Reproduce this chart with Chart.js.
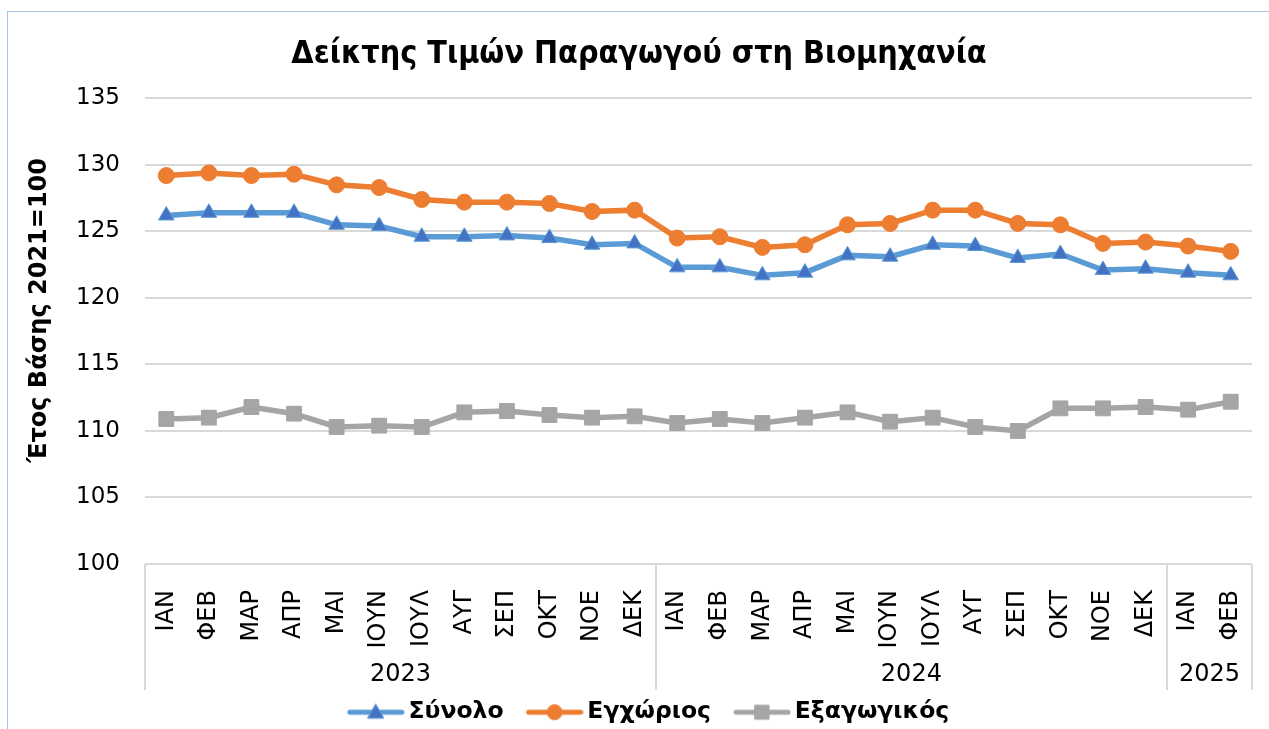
<!DOCTYPE html>
<html>
<head>
<meta charset="utf-8">
<script src="https://cdn.jsdelivr.net/npm/chart.js@4"></script>
<style>
  html, body { margin: 0; padding: 0; background: #fff; overflow: hidden; }
  #wrap { position: relative; width: 1269px; height: 729px; overflow: hidden; }
  #frame { position: absolute; left: 7px; top: 11px; width: 1400px; height: 800px; border-left: 1px solid #a6c3e8; border-top: 1px solid #a6c3e8; }
  canvas { position: absolute; left: 0; top: 0; }
</style>
</head>
<body>
<div id="wrap">
  <div id="frame"></div>
  <canvas id="ppiChart" width="1269" height="729"></canvas>
</div>
<script>
const months = [
  'ΙΑΝ', 'ΦΕΒ', 'ΜΑΡ', 'ΑΠΡ', 'ΜΑΙ', 'ΙΟΥΝ', 'ΙΟΥΛ', 'ΑΥΓ', 'ΣΕΠ', 'ΟΚΤ', 'ΝΟΕ', 'ΔΕΚ',
  'ΙΑΝ', 'ΦΕΒ', 'ΜΑΡ', 'ΑΠΡ', 'ΜΑΙ', 'ΙΟΥΝ', 'ΙΟΥΛ', 'ΑΥΓ', 'ΣΕΠ', 'ΟΚΤ', 'ΝΟΕ', 'ΔΕΚ',
  'ΙΑΝ', 'ΦΕΒ'
];
const years = ['2023', '2024', '2025'];
const monthsPerYear = [12, 12, 2];

const synolo = [
  126.2, 126.4, 126.4, 126.4, 125.5, 125.4, 124.6, 124.6, 124.7, 124.5, 124.0, 124.1,
  122.3, 122.3, 121.7, 121.9, 123.2, 123.1, 124.0, 123.9, 123.0, 123.3, 122.1, 122.2,
  121.9, 121.7
];
const egxorios = [
  129.2, 129.4, 129.2, 129.3, 128.5, 128.3, 127.4, 127.2, 127.2, 127.1, 126.5, 126.6,
  124.5, 124.6, 123.8, 124.0, 125.5, 125.6, 126.6, 126.6, 125.6, 125.5, 124.1, 124.2,
  123.9, 123.5
];
const exagogikos = [
  110.9, 111.0, 111.8, 111.3, 110.3, 110.4, 110.3, 111.4, 111.5, 111.2, 111.0, 111.1,
  110.6, 110.9, 110.6, 111.0, 111.4, 110.7, 111.0, 110.3, 110.0, 111.7, 111.7, 111.8,
  111.6, 112.2
];

const seriesNames = ['Σύνολο', 'Εγχώριος', 'Εξαγωγικός'];
const yTicks = [100, 105, 110, 115, 120, 125, 130, 135];
const yTitle = 'Έτος Βάσης 2021=100';

// legend icon: line with the marker in the middle, like Excel.
// The canvas is wider than the legend box so the sample sits close to its text.
function legendIcon(lineColor, fill, border, shape) {
  const c = document.createElement('canvas');
  c.width = 84; c.height = 22;
  const g = c.getContext('2d');
  const x0 = 27, x1 = 83, mid = (x0 + x1) / 2;
  g.strokeStyle = lineColor;
  g.lineWidth = 5;
  g.lineCap = 'round';
  g.beginPath(); g.moveTo(x0 + 2, 11); g.lineTo(x1 - 2, 11); g.stroke();
  g.fillStyle = fill;
  g.strokeStyle = border;
  g.lineWidth = 1;
  g.beginPath();
  if (shape === 'triangle') {
    g.moveTo(mid, 3); g.lineTo(mid + 8, 17); g.lineTo(mid - 8, 17); g.closePath();
  } else if (shape === 'circle') {
    g.arc(mid, 11, 7.5, 0, Math.PI * 2);
  } else {
    g.rect(mid - 7, 4, 14, 14);
  }
  g.fill(); g.stroke();
  return c;
}

const icons = [
  legendIcon('#5b9bd5', '#4472c4', '#5b9bd5', 'triangle'),
  legendIcon('#ed7d31', '#ed7d31', '#ed7d31', 'circle'),
  legendIcon('#a5a5a5', '#a5a5a5', '#a5a5a5', 'rect')
];

// year group labels and separators under the month labels, plus the y title
const yearGroups = {
  id: 'yearGroups',
  afterDraw(chart) {
    const ctx = chart.ctx;
    const xs = chart.scales.x;
    const top = chart.chartArea.bottom;
    const bottom = top + 126;
    const step = xs.getPixelForValue(1) - xs.getPixelForValue(0);
    ctx.save();
    ctx.strokeStyle = '#d9d9d9';
    ctx.lineWidth = 2;
    ctx.fillStyle = '#000';
    ctx.font = '24px "DejaVu Sans"';
    ctx.textAlign = 'center';
    ctx.textBaseline = 'middle';
    let start = 0;
    for (let i = 0; i < years.length; i++) {
      const end = start + monthsPerYear[i] - 1;
      const x0 = xs.getPixelForValue(start) - step / 2;
      const x1 = xs.getPixelForValue(end) + step / 2;
      ctx.beginPath();
      ctx.moveTo(Math.round(x0), top); ctx.lineTo(Math.round(x0), bottom);
      if (i === years.length - 1) { ctx.moveTo(Math.round(x1), top); ctx.lineTo(Math.round(x1), bottom); }
      ctx.stroke();
      ctx.fillText(years[i], (x0 + x1) / 2, top + 111);
      start = end + 1;
    }
    // y axis title, a bit above the plot centre as in the original
    ctx.translate(40, chart.chartArea.top + 212);
    ctx.rotate(-Math.PI / 2);
    ctx.font = 'bold 24px "DejaVu Sans"';
    ctx.fillText(yTitle, 0, 0);
    ctx.restore();
  }
};

const ctx = document.getElementById('ppiChart').getContext('2d');

new Chart(ctx, {
  type: 'line',
  data: {
    labels: months,
    datasets: [
      {
        label: seriesNames[0],
        data: synolo,
        borderColor: '#5b9bd5',
        backgroundColor: '#4472c4',
        pointBorderColor: '#5b9bd5',
        borderWidth: 5.5,
        pointStyle: 'triangle',
        pointRadius: 9,
        pointBorderWidth: 1
      },
      {
        label: seriesNames[1],
        data: egxorios,
        borderColor: '#ed7d31',
        backgroundColor: '#ed7d31',
        borderWidth: 5.5,
        pointStyle: 'circle',
        pointRadius: 8,
        pointBorderWidth: 1
      },
      {
        label: seriesNames[2],
        data: exagogikos,
        borderColor: '#a5a5a5',
        backgroundColor: '#a5a5a5',
        borderWidth: 5.5,
        pointStyle: 'rect',
        pointRadius: 10.5,
        pointBorderWidth: 1
      }
    ]
  },
  options: {
    responsive: false,
    animation: false,
    layout: { padding: { left: 26, right: 17, top: 0, bottom: -5 } },
    plugins: {
      title: {
        display: true,
        text: 'Δείκτης Τιμών Παραγωγού στη Βιομηχανία',
        color: '#000',
        font: { family: 'DejaVu Sans Condensed', weight: 'bold', size: 32 },
        padding: { top: 35, bottom: 25 }
      },
      legend: {
        position: 'bottom',
        labels: {
          usePointStyle: true,
          pointStyleWidth: 68,
          padding: 4,
          color: '#000',
          font: { family: 'DejaVu Sans', weight: 'bold', size: 23.5 },
          generateLabels: (chart) => chart.data.datasets.map((ds, i) => ({
            text: ds.label,
            pointStyle: icons[i],
            fillStyle: ds.borderColor,
            strokeStyle: ds.borderColor,
            lineWidth: 0,
            hidden: false,
            datasetIndex: i,
            fontColor: '#000'
          }))
        }
      },
      tooltip: { enabled: false }
    },
    scales: {
      x: {
        offset: true,
        grid: { display: false },
        border: { display: false },
        ticks: {
          autoSkip: false,
          minRotation: 90,
          maxRotation: 90,
          padding: 18,
          color: '#000',
          font: { family: 'DejaVu Sans', size: 24 }
        },
        afterFit(scale) {
          scale.height = 132.5;
          scale.paddingLeft = 0;
          scale.paddingRight = 0;
        }
      },
      y: {
        min: yTicks[0],
        max: yTicks[yTicks.length - 1],
        afterBuildTicks(scale) { scale.ticks = yTicks.map(v => ({ value: v })); },
        ticks: {
          padding: 25,
          color: '#000',
          font: { family: 'DejaVu Sans', size: 23 }
        },
        grid: { color: '#d9d9d9', lineWidth: 2, drawTicks: false },
        border: { display: false },
        afterFit(scale) { scale.width = 119; }
      }
    }
  },
  plugins: [yearGroups]
});
</script>
</body>
</html>
